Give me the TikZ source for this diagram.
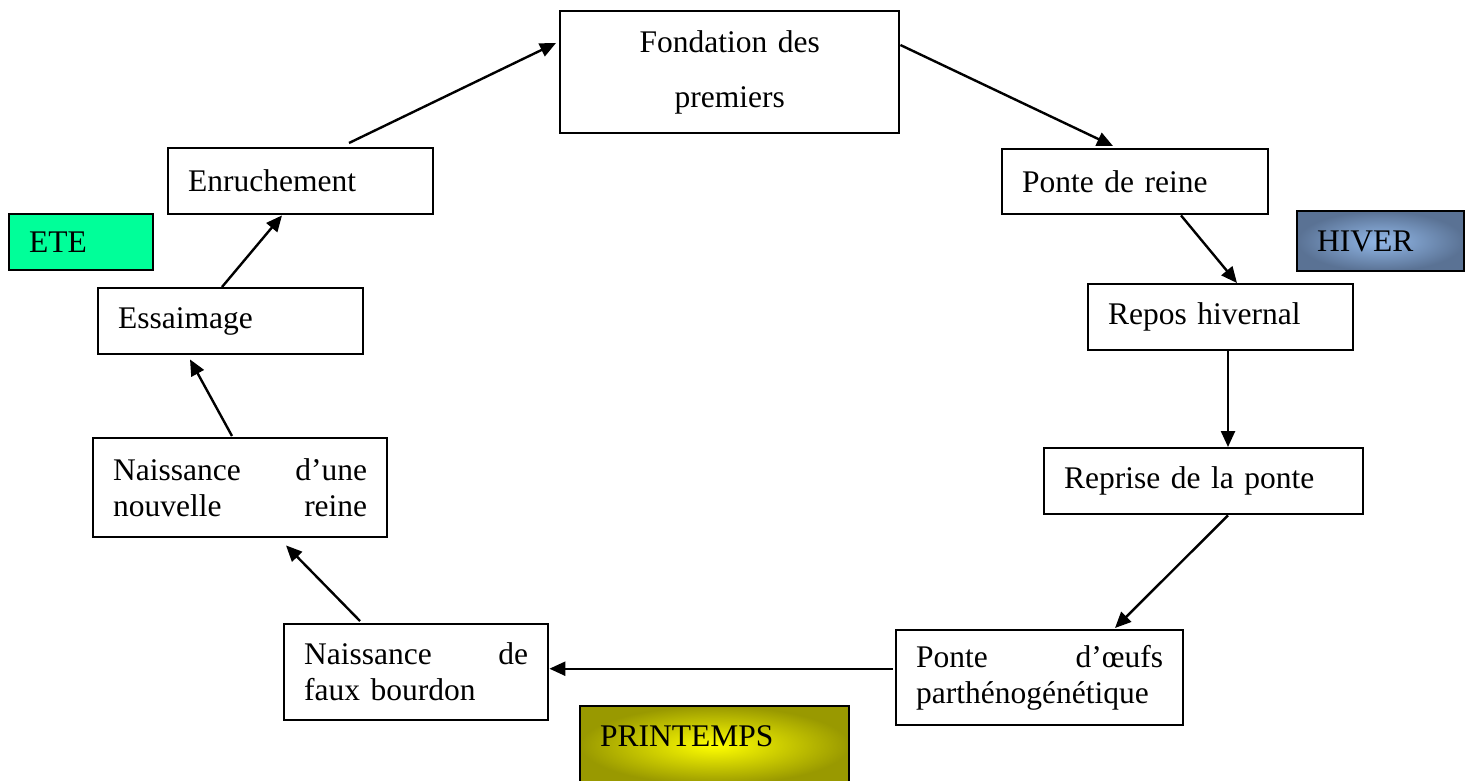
\documentclass[tikz,border=0pt]{standalone}
\usepackage{fontspec}
\setmainfont{Liberation Serif}
\usetikzlibrary{arrows.meta,calc}
\newcommand\boxfont{\fontsize{31.5}{36}\selectfont}
\definecolor{etegreen}{HTML}{00FF99}
\definecolor{hivout}{HTML}{5A7294}
\definecolor{hivin}{HTML}{92B8E8}
\definecolor{prout}{HTML}{999900}
\definecolor{prin}{HTML}{FFFF00}
\tikzset{
  box/.style={draw, line width=2.4pt, rectangle, anchor=north west,
    inner xsep=20pt, inner ysep=0pt, font=\boxfont, align=left},
  link/.style={draw, line width=2.4pt, -{Triangle[length=16pt,width=14pt]}}
}
\begin{document}
\begin{tikzpicture}[x=1pt,y=-1pt]
\useasboundingbox (0,0) rectangle (1471,780);
% main cycle boxes
\node[box, align=center, text width=299pt, minimum height=122pt] (fond) at (559,10)
  {Fondation des\\[19pt]premiers};
\node[box, text width=226pt, minimum height=65pt] (ponte) at (1001,148) {Ponte de reine};
\node[box, text width=225pt, minimum height=66pt] (repos) at (1087,283) {Repos hivernal};
\node[box, text width=279pt, minimum height=66pt] (reprise) at (1043,447) {Reprise de la ponte};
\node[box, text width=247pt, minimum height=95pt] (oeufs) at (895,629)
  {Ponte\hfill d’œufs\\parthénogénétique};
\node[box, text width=224pt, minimum height=96pt] (faux) at (283,623)
  {Naissance\hfill de\\faux bourdon};
\node[box, text width=254pt, minimum height=99pt] (reine) at (92,437)
  {Naissance\hfill d’une\\nouvelle\hfill reine};
\node[box, text width=225pt, minimum height=66pt] (ess) at (97,287) {Essaimage};
\node[box, text width=225pt, minimum height=66pt] (enr) at (167,147) {Enruchement};
% season boxes
\node[box, fill=etegreen, text width=104pt, minimum height=56pt] (ete) at (8,213) {ETE};
\node[box, inner color=hivin, outer color=hivout, text width=127pt, minimum height=60pt] (hiver) at (1296,210) {HIVER};
\node[box, inner color=prin, outer color=prout, text width=229pt, text height=40.5pt, text depth=37.5pt] (print) at (579,705) {PRINTEMPS};
% connectors
\draw[link] ([xshift=182pt,yshift=4pt]enr.north west) -- ([xshift=-3pt,yshift=-33pt]fond.north west);
\draw[link] ([yshift=-35pt]fond.north east) -- ([xshift=112pt,yshift=2pt]ponte.north west);
\draw[link] ([xshift=180pt]ponte.south west) -- ([xshift=150pt]repos.north west);
\draw[link] ([xshift=141pt]repos.south west) -- ([xshift=185pt]reprise.north west);
\draw[link] ([xshift=185pt]reprise.south west) -- ([xshift=220pt,yshift=1pt]oeufs.north west);
\draw[link] ([xshift=-2pt,yshift=9pt]oeufs.west) -- ([yshift=9pt]oeufs.west -| faux.east);
\draw[link] ([xshift=77pt,yshift=2pt]faux.north west) -- ([xshift=194pt,yshift=-7pt]reine.south west);
\draw[link] ([xshift=140pt,yshift=1pt]reine.north west) -- ([xshift=93pt,yshift=-4pt]ess.south west);
\draw[link] ([xshift=125pt]ess.north west) -- ([xshift=115pt]enr.south west);
\end{tikzpicture}
\end{document}
